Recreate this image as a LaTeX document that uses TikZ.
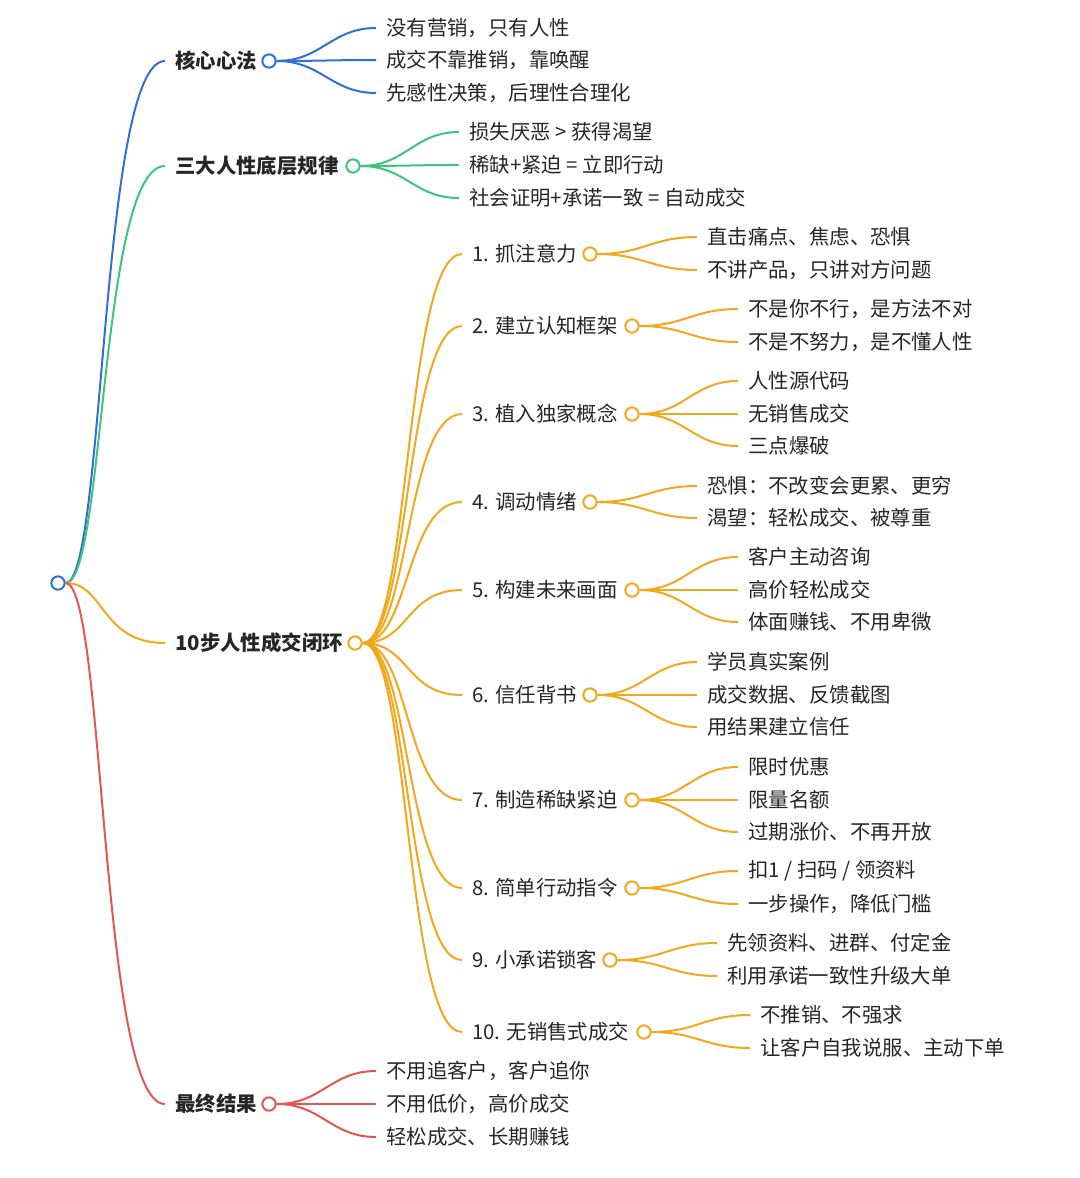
\documentclass[tikz,border=0pt]{standalone}
\usepackage{fontspec}
\setmainfont{Noto Sans CJK SC}
\definecolor{cb}{HTML}{2F6FD6}
\definecolor{cg}{HTML}{3DC47E}
\definecolor{co}{HTML}{F2A81D}
\definecolor{cr}{HTML}{E25656}
\tikzset{
 circ/.style={circle,draw=#1,fill=white,line width=1.5pt,minimum size=10pt,inner sep=0pt},
 lab/.style={anchor=west,inner ysep=0pt,inner xsep=7.5pt,font=\fontsize{15.3pt}{18pt}\selectfont,text=black!85},
 blab/.style={lab,font=\fontsize{15.3pt}{18pt}\selectfont\bfseries},
 ln/.style={draw=#1,line width=1.5pt},
}
\begin{document}
\begin{tikzpicture}[x=0.75pt,y=-0.75pt]
\useasboundingbox (0,0) rectangle (1080,1178);
\node[circ=cb] (root) at (58,583) {};
\newcommand\branch[6]{%
 \node[blab] (#1) at (165,#4) {#3};
 \node[circ=#2] (#1c) at (#5,#4) {};
 \draw[ln=#2] (root.east) .. controls (105,583) and (100,#4) .. (#1.west);
}
\branch{A}{cb}{核心心法}{61}{269}{}
\branch{B}{cg}{三大人性底层规律}{166}{353}{}
\branch{C}{co}{10步人性成交闭环}{643}{355}{}
\branch{D}{cr}{最终结果}{1104}{269}{}
\foreach \t/\y [count=\i] in {没有营销，只有人性/28,成交不靠推销，靠唤醒/60,先感性决策，后理性合理化/93}{
 \node[lab] (a\i) at (376,\y) {\t};
 \draw[ln=cb] (Ac.east) .. controls +(45,0) and +(-45,0) .. (a\i.west);}
\foreach \t/\y [count=\i] in {损失厌恶 > 获得渴望/132,稀缺+紧迫 = 立即行动/165,社会证明+承诺一致 = 自动成交/198}{
 \node[lab] (b\i) at (459,\y) {\t};
 \draw[ln=cg] (Bc.east) .. controls +(45,0) and +(-45,0) .. (b\i.west);}
\foreach \t/\y [count=\i] in {不用追客户，客户追你/1071,不用低价，高价成交/1104,轻松成交、长期赚钱/1137}{
 \node[lab] (d\i) at (376,\y) {\t};
 \draw[ln=cr] (Dc.east) .. controls +(45,0) and +(-45,0) .. (d\i.west);}
\newcommand\step[4]{%
 \node[lab] (s#1) at (462,#3) {#2};
 \node[circ=co] (s#1c) at (#4,#3) {};
 \draw[ln=co] (Cc.east) .. controls (410,643) and (405,#3) .. (s#1.west);
}
\step{1}{1. 抓注意力}{254}{590}
\step{2}{2. 建立认知框架}{326}{632}
\step{3}{3. 植入独家概念}{414}{632}
\step{4}{4. 调动情绪}{502}{590}
\step{5}{5. 构建未来画面}{590}{632}
\step{6}{6. 信任背书}{695}{590}
\step{7}{7. 制造稀缺紧迫}{800}{632}
\step{8}{8. 简单行动指令}{888}{632}
\step{9}{9. 小承诺锁客}{960}{610}
\step{10}{10. 无销售式成交}{1032}{644}
\newcommand\leaves[3]{%
 \foreach \t/\y [count=\i] in {#3}{
  \node[lab] (l#1-\i) at (#2-8,\y) {\t};
  \draw[ln=co] (s#1c.east) .. controls +(45,0) and +(-45,0) .. (l#1-\i.west);}}
\leaves{1}{705}{直击痛点、焦虑、恐惧/237,不讲产品，只讲对方问题/270}
\leaves{2}{746}{不是你不行，是方法不对/309,不是不努力，是不懂人性/342}
\leaves{3}{746}{人性源代码/381,无销售成交/414,三点爆破/446}
\leaves{4}{705}{恐惧：不改变会更累、更穷/486,渴望：轻松成交、被尊重/518}
\leaves{5}{746}{客户主动咨询/557,高价轻松成交/590,体面赚钱、不用卑微/622}
\leaves{6}{705}{学员真实案例/662,成交数据、反馈截图/695,用结果建立信任/727}
\leaves{7}{746}{限时优惠/767,限量名额/800,过期涨价、不再开放/832}
\leaves{8}{746}{{扣1 / 扫码 / 领资料}/871,一步操作，降低门槛/904}
\leaves{9}{725}{先领资料、进群、付定金/943,利用承诺一致性升级大单/976}
\leaves{10}{758}{不推销、不强求/1015,让客户自我说服、主动下单/1048}
\end{tikzpicture}
\end{document}
